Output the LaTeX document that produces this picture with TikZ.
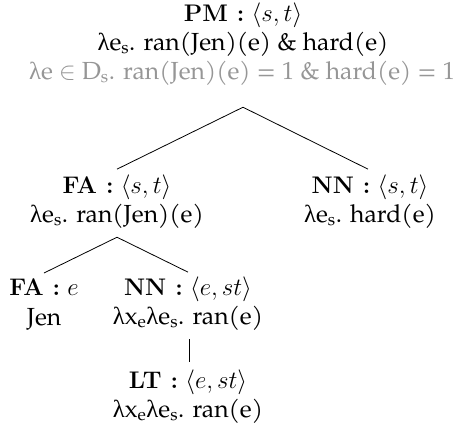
\documentclass[tikz,border=0pt]{standalone}
\usepackage{fontspec}
\newfontfamily\pal[Scale=1.03]{TeX Gyre Pagella}
\newfontfamily\grk[Scale=1.03]{Liberation Serif}
\definecolor{lightgr}{RGB}{150,150,150}
\newcommand{\lam}{{\grk λ}}
\newcommand{\sub}[1]{\textsubscript{#1}}
\begin{document}
\begin{tikzpicture}[x=1pt,y=-1pt,
  ln/.style={anchor=base,inner sep=0pt,font=\fontsize{24}{29}\selectfont},
  tx/.style={ln,font=\fontsize{24}{29}\selectfont\pal},
  br/.style={line width=0.8pt}]
\useasboundingbox (0,0) rectangle (458,426);
% root
\node[ln] (r1) at (243,21) {\textbf{PM :} $\langle s, t\rangle$};
\node[tx] (r2) at (243,50) {\lam e\sub{s}. ran(Jen)(e) \& hard(e)};
\node[tx,text=lightgr] (r3) at (242,79) {\lam e $\in$ D\sub{s}. ran(Jen)(e) = 1 \& hard(e) = 1};
% FA
\node[ln] (fa1) at (117,193) {\textbf{FA :} $\langle s, t\rangle$};
\node[tx] (fa2) at (117,222) {\lam e\sub{s}. ran(Jen)(e)};
% NN right
\node[ln] (nn1) at (370,193) {\textbf{NN :} $\langle s, t\rangle$};
\node[tx] (nn2) at (370,222) {\lam e\sub{s}. hard(e)};
% FA e
\node[ln] (fe1) at (44,295) {\textbf{FA :} $e$};
\node[tx] (fe2) at (44,325) {Jen};
% NN est
\node[ln] (ne1) at (188,295) {\textbf{NN :} $\langle e, st\rangle$};
\node[tx] (ne2) at (188,324) {\lam x\sub{e}\lam e\sub{s}. ran(e)};
% LT
\node[ln] (lt1) at (188,388) {\textbf{LT :} $\langle e, st\rangle$};
\node[tx] (lt2) at (188,417) {\lam x\sub{e}\lam e\sub{s}. ran(e)};
% branches
\draw[br] ([yshift=-22pt,xshift=1pt]r3.south) coordinate (ra) -- ([yshift=5pt]fa1.north);
\draw[br] (ra) -- ([yshift=5pt,xshift=-2pt]nn1.north);
\draw[br] ([yshift=-9pt]fa2.south) coordinate (fb) -- ([yshift=5pt]fe1.north);
\draw[br] (fb) -- ([yshift=4pt]ne1.north);
\draw[br] ([yshift=-9pt,xshift=1pt]ne2.south) -- ([yshift=7pt,xshift=1pt]lt1.north);
\end{tikzpicture}
\end{document}
